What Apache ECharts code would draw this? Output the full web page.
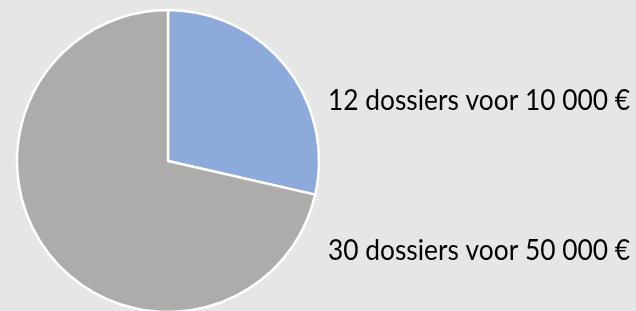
<!DOCTYPE html>
<html>
<head>
<meta charset="utf-8">
<script src="https://cdn.jsdelivr.net/npm/echarts@6/dist/echarts.min.js"></script>
<style>
  html, body { margin: 0; padding: 0; background: #e7e6e6; }
  #main { width: 636px; height: 311px; }
</style>
</head>
<body>
<div id="main"></div>
<script>
// dossiers per bedrag
const labels = ['12 dossiers voor 10 000 €', '30 dossiers voor 50 000 €']
const counts = [12, 30]
const colors = ['#8eaadb', '#adacab']

const chart = echarts.init(document.getElementById('main'), null, { renderer: 'canvas' })

const option = {
  backgroundColor: '#e7e6e6',
  animation: false,
  series: [
    {
      type: 'pie',
      center: [168, 161],
      radius: 151,
      startAngle: 90,
      clockwise: true,
      label: { show: false },
      labelLine: { show: false },
      itemStyle: { borderColor: '#ffffff', borderWidth: 2.5 },
      data: counts.map((v, i) => ({ name: labels[i], value: v, itemStyle: { color: colors[i] } }))
    }
  ],
  graphic: labels.map((t, i) => ({
    type: 'text',
    x: 328,
    y: i === 0 ? 87 : 237,
    scaleX: 0.94,
    style: {
      text: t,
      font: '28px Lato',
      fill: '#000000'
    }
  }))
}
chart.setOption(option)
</script>
</body>
</html>
